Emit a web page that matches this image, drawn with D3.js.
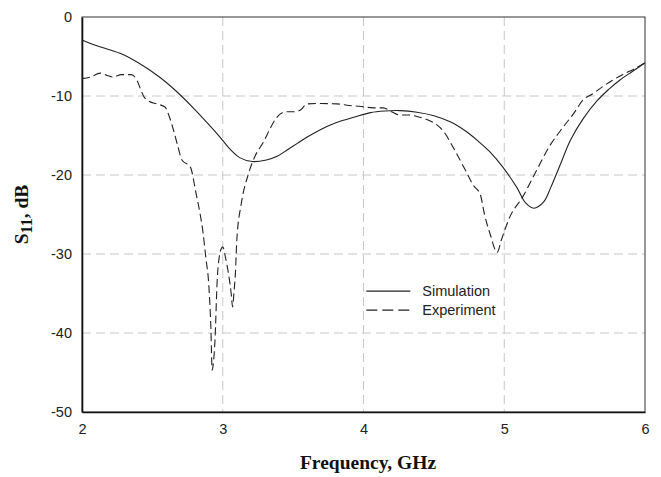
<!DOCTYPE html>
<html lang="en">
<head>
<meta charset="UTF-8">
<title>S11 vs Frequency</title>
<script src="https://d3js.org/d3.v7.min.js"></script>
<style>
    body { margin: 0; background: white; }
    .tick text { font-family: "Liberation Sans", Arial, sans-serif; font-size: 14.5px; fill: #222; }
    .grid line { stroke: #c8c8c8; stroke-dasharray: 9,5; }
    .axis-title { font-family: "Liberation Serif", "Times New Roman", serif; font-weight: bold; font-size: 19.5px; fill: #111; }
    .legend text { font-family: "Liberation Sans", Arial, sans-serif; font-size: 14.5px; fill: #222; }
</style>
</head>
<body>
<div id="chart"></div>
<script>
    // Simulation (solid)
    const simFreq = [2.0, 2.1, 2.27, 2.4, 2.55, 2.67, 2.79, 2.9, 2.98, 3.05, 3.12, 3.21, 3.31, 3.39, 3.46, 3.53, 3.6, 3.68, 3.76, 3.85, 3.93, 4.05, 4.15, 4.26, 4.38, 4.5, 4.62, 4.73, 4.82, 4.9, 4.99, 5.09, 5.15, 5.21, 5.28, 5.33, 5.4, 5.47, 5.56, 5.66, 5.74, 5.82, 5.91, 6.0];
    const simS11 = [-2.9, -3.6, -4.6, -5.8, -7.6, -9.4, -11.5, -13.6, -15.2, -16.7, -17.8, -18.3, -18.1, -17.6, -16.8, -16.0, -15.2, -14.4, -13.7, -13.1, -12.7, -12.1, -11.9, -11.85, -12.05, -12.5, -13.3, -14.5, -15.8, -17.1, -19.0, -21.6, -23.5, -24.2, -23.4, -21.6, -18.6, -15.6, -12.9, -10.6, -9.2, -8.0, -6.9, -5.8];

    // Experiment (dashed)
    const expFreq = [2.0, 2.06, 2.13, 2.18, 2.22, 2.28, 2.35, 2.39, 2.42, 2.44, 2.48, 2.53, 2.59, 2.62, 2.65, 2.68, 2.71, 2.77, 2.81, 2.84, 2.86, 2.88, 2.9, 2.915, 2.925, 2.935, 2.945, 2.96, 2.975, 2.99, 3.0, 3.02, 3.04, 3.06, 3.07, 3.08, 3.09, 3.1, 3.13, 3.18, 3.23, 3.29, 3.34, 3.38, 3.45, 3.5, 3.55, 3.6, 3.7, 3.81, 3.9, 3.97, 4.07, 4.14, 4.2, 4.26, 4.32, 4.38, 4.44, 4.5, 4.57, 4.64, 4.73, 4.78, 4.83, 4.86, 4.9, 4.95, 4.98, 5.04, 5.13, 5.23, 5.32, 5.42, 5.49, 5.56, 5.63, 5.7, 5.77, 5.84, 5.92, 6.0];
    const expS11 = [-7.8, -7.6, -7.1, -7.4, -7.6, -7.3, -7.3, -8.0, -9.3, -10.1, -10.7, -11.0, -11.4, -12.6, -14.3, -16.3, -18.1, -19.0, -22.3, -25.0, -27.3, -30.5, -33.7, -39.0, -44.7, -43.5, -40.9, -33.5, -30.4, -29.3, -29.1, -30.5, -32.4, -35.0, -36.7, -34.8, -32.4, -28.2, -23.8, -20.0, -17.6, -15.8, -14.0, -12.8, -12.0, -12.0, -11.8, -11.0, -10.95, -11.0, -11.2, -11.3, -11.5, -11.5, -12.0, -12.4, -12.4, -12.6, -12.9, -13.4, -14.5, -16.6, -19.6, -21.3, -22.5, -25.0, -27.5, -29.8, -28.2, -25.3, -22.8, -19.4, -16.4, -13.9, -12.3, -10.5, -9.7, -8.8, -8.0, -7.3, -6.6, -5.8];

    const xTicks = [2, 3, 4, 5, 6];
    const yTicks = [0, -10, -20, -30, -40, -50];

    const W = 661, H = 477;
    const margin = { top: 17, right: 16, bottom: 65, left: 82 };
    const width = W - margin.left - margin.right;
    const height = H - margin.top - margin.bottom;

    const svg = d3.select("#chart").append("svg")
        .attr("width", W).attr("height", H);
    const g = svg.append("g").attr("transform", `translate(${margin.left},${margin.top})`);

    const x = d3.scaleLinear().domain([2, 6]).range([0, width]);
    const y = d3.scaleLinear().domain([-50, 0]).range([height, 0]);

    // grid
    g.append("g").attr("class", "grid")
        .selectAll("line").data(xTicks.slice(1, -1)).join("line")
        .attr("x1", d => x(d)).attr("x2", d => x(d))
        .attr("y1", 0).attr("y2", height);
    g.append("g").attr("class", "grid")
        .selectAll("line").data(yTicks.slice(1, -1)).join("line")
        .attr("x1", 0).attr("x2", width)
        .attr("y1", d => y(d)).attr("y2", d => y(d));

    // frame (top/right thin)
    g.append("rect").attr("width", width).attr("height", height)
        .attr("fill", "none").attr("stroke", "#333").attr("stroke-width", 1);

    // axes - plain hyphen for negatives like the original
    const xAxis = g.append("g").attr("transform", `translate(0,${height})`)
        .call(d3.axisBottom(x).tickValues(xTicks).tickSize(0).tickPadding(12).tickFormat(d => String(d)));
    xAxis.select(".domain").attr("stroke", "#111").attr("stroke-width", 1.6);

    const yAxis = g.append("g")
        .call(d3.axisLeft(y).tickValues(yTicks).tickSize(0).tickPadding(10).tickFormat(d => String(d)));
    yAxis.select(".domain").attr("stroke", "#111").attr("stroke-width", 1.6);

    // curves
    const simLine = d3.line().curve(d3.curveCatmullRom.alpha(0.5))
        .x(d => x(d[0])).y(d => y(d[1]));
    const expLine = d3.line().curve(d3.curveMonotoneX)
        .x(d => x(d[0])).y(d => y(d[1]));

    g.append("path")
        .datum(d3.zip(simFreq, simS11))
        .attr("d", simLine)
        .attr("fill", "none").attr("stroke", "#222").attr("stroke-width", 1.1);

    g.append("path")
        .datum(d3.zip(expFreq, expS11))
        .attr("d", expLine)
        .attr("fill", "none").attr("stroke", "#222").attr("stroke-width", 1.1)
        .attr("stroke-dasharray", "8,4");

    // legend
    const leg = g.append("g").attr("class", "legend")
        .attr("transform", `translate(${x(4.02)},${y(-34.7)})`);
    leg.append("line").attr("x1", 0).attr("x2", 44).attr("y1", 0).attr("y2", 0)
        .attr("stroke", "#222").attr("stroke-width", 1.1);
    leg.append("text").attr("x", 56).attr("y", 5).text("Simulation");
    leg.append("line").attr("x1", 0).attr("x2", 44).attr("y1", 19).attr("y2", 19)
        .attr("stroke", "#222").attr("stroke-width", 1.1).attr("stroke-dasharray", "11,5");
    leg.append("text").attr("x", 56).attr("y", 24).text("Experiment");

    // axis titles
    svg.append("text").attr("class", "axis-title")
        .attr("x", 368).attr("y", 469)
        .attr("text-anchor", "middle")
        .text("Frequency, GHz");

    const yt = svg.append("text").attr("class", "axis-title")
        .attr("transform", `translate(28,${margin.top + height / 2}) rotate(-90)`)
        .attr("text-anchor", "middle");
    yt.append("tspan").text("S");
    yt.append("tspan").attr("font-size", "16px").attr("dy", 4).text("11");
    yt.append("tspan").attr("dy", -4).text(", dB");
</script>
</body>
</html>
